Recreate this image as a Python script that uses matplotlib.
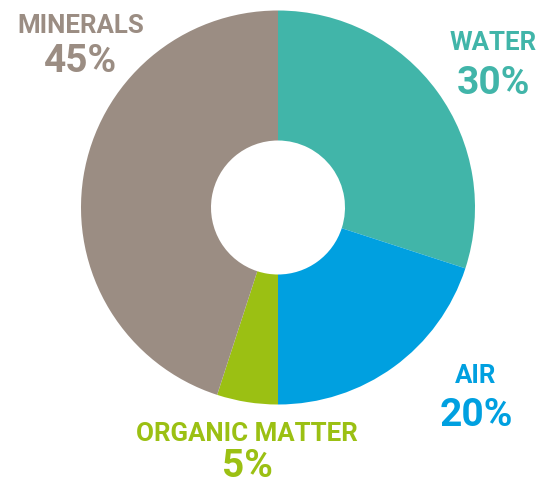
import matplotlib
matplotlib.use("Agg")
import matplotlib.pyplot as plt

# soil composition
labels = ["WATER", "AIR", "ORGANIC MATTER", "MINERALS"]
shares = [30, 20, 5, 45]
colors = ["#41b5a9", "#00a0e0", "#9bc013", "#9b8d83"]

W, H = 548, 487

fig = plt.figure(figsize=(W / 100, H / 100), dpi=100)
ax = fig.add_axes([0, 0, 1, 1])

cx, cy = 278, H - 207.5
r_out, r_in = 197, 67

ax.pie(shares, colors=colors, startangle=90, counterclock=False,
       center=(cx, cy), radius=r_out,
       wedgeprops=dict(width=r_out - r_in, linewidth=0),
       frame=True)
ax.set_xlim(0, W)
ax.set_ylim(0, H)
ax.set_aspect("equal")
ax.axis("off")

# label positions in pixel coords (x centre, baseline of name, baseline of pct)
label_pos = {
    "WATER": (493, 50, 94),
    "AIR": (476, 383, 426),
    "ORGANIC MATTER": (247, 441, 477),
    "MINERALS": (81, 33, 72),
}

for lab, val, col in zip(labels, shares, colors):
    x, yn, yp = label_pos[lab]
    ax.text(x, H - yn, lab, color=col, fontsize=18.6, fontweight="bold",
            family="Roboto", ha="center", va="baseline")
    ax.text(x, H - yp, f"{val}%", color=col, fontsize=28, fontweight="bold",
            family="Roboto", ha="center", va="baseline")

plt.savefig("out.png", dpi=100)
